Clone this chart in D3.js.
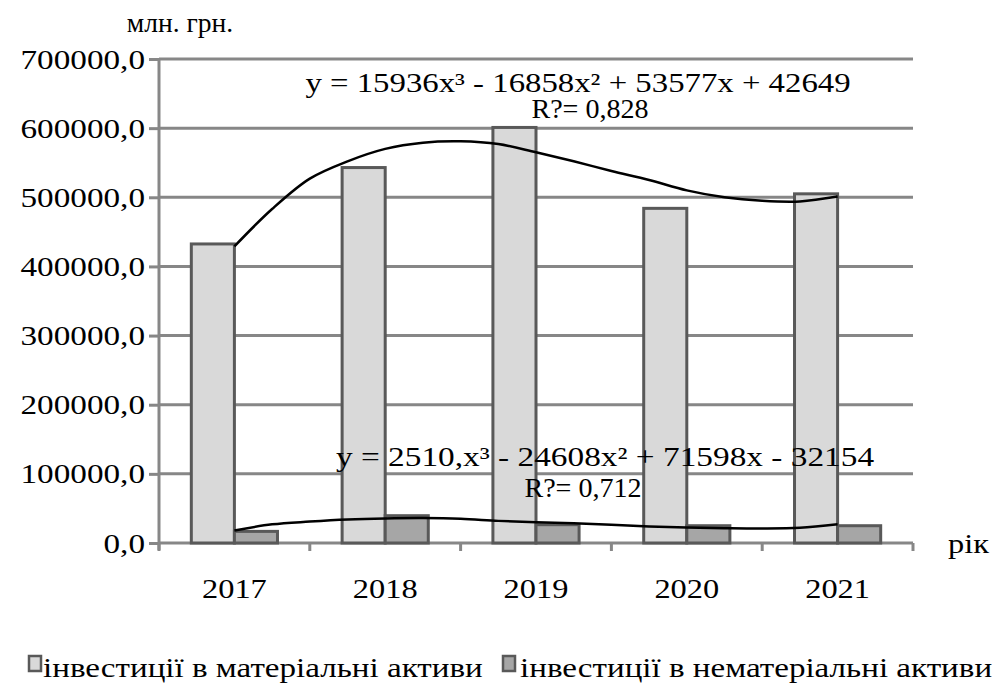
<!DOCTYPE html>
<html><head><meta charset="utf-8">
<script src="https://cdn.jsdelivr.net/npm/d3@7"></script>
<style>body{margin:0;background:#fff}</style>
</head><body><svg id="c" width="993" height="690"></svg>
<script>
const years = ["2017","2018","2019","2020","2021"];
const seriesNames = ["інвестиції в матеріальні активи","інвестиції в нематеріальні активи"];
const tangible = [432500, 543000, 601000, 484000, 505000];
const intangible = [16800, 39500, 26500, 25000, 25000];
const yTicks = [0,100000,200000,300000,400000,500000,600000,700000];
// trendline samples, at category positions 1..5 step 0.25
const trendT = [1,1.25,1.5,1.75,2,2.25,2.5,2.75,3,3.25,3.5,3.75,4,4.25,4.5,4.75,5];
const trendTangible = [429000,483000,527000,552000,570000,579000,581000,577000,565000,552000,538000,525000,510000,500000,495000,494000,501000];
const trendIntangible = [18000,27000,31000,34000,35500,36000,35000,32000,30000,28500,26500,24000,22500,21500,21000,22000,27000];
const eq1 = "y = 15936x³ - 16858x² + 53577x + 42649";
const r1 = "R?= 0,828";
const eq2 = "y = 2510,x³ - 24608x² + 71598x - 32154";
const r2 = "R?= 0,712";
const yUnit = "млн. грн.";
const xUnit = "рік";

const svg = d3.select("#c");
const L=159, R=913, T=59, B=543;
const FS=27, SX=1.2;
const FONT="'Liberation Serif', Tinos, 'Times New Roman', Times, serif";
const x = d3.scaleBand().domain(years).range([L,R]).padding(0);
const xs = d3.scaleBand().domain([0,1]).range([0,x.bandwidth()]).paddingInner(0).paddingOuter(0.75);
const y = d3.scaleLinear().domain([0,700000]).range([B,T]);
const tx = t => x(years[0]) + x.bandwidth()/2 + (t-1)*x.step();
const fmt = v => d3.format(".1f")(v).replace(".",",");

function txt(px,py,s,anchor,sx){
  return svg.append("text").attr("transform",`translate(${px},${py}) scale(${sx||SX},1)`)
   .attr("text-anchor",anchor||"start").attr("font-size",FS).attr("font-family",FONT)
   .attr("fill","#000").text(s);
}

// gridlines
svg.append("g").selectAll("line").data(yTicks.slice(1)).join("line")
 .attr("x1",L).attr("x2",R).attr("y1",d=>y(d)).attr("y2",d=>y(d))
 .attr("stroke","#878787").attr("stroke-width",3);

// y axis
const ya = svg.append("g").attr("transform",`translate(${L},0)`)
 .call(d3.axisLeft(y).tickValues(yTicks).tickSize(10).tickFormat(""));
ya.selectAll("line,path").attr("stroke","#878787").attr("stroke-width",3);
ya.select("path").attr("d",`M0,${T}V${B+7}`);
yTicks.forEach(v=>txt(145,y(v)+9.5,fmt(v),"end",1.23));

// x axis
const xa = svg.append("g").attr("transform",`translate(0,${B})`)
 .call(d3.axisBottom(x).tickSize(0).tickFormat(""));
xa.select("path").attr("d",`M${L},0H${R}`).attr("stroke","#878787").attr("stroke-width",3);
const bounds = years.map(d=>x(d)).concat([R]);
svg.append("g").selectAll("line").data(bounds).join("line")
 .attr("x1",d=>d).attr("x2",d=>d).attr("y1",B).attr("y2",B+8)
 .attr("stroke","#878787").attr("stroke-width",3);
years.forEach(d=>txt(x(d)+x.bandwidth()/2,598,d,"middle"));

// bars
const fills=["#d9d9d9","#a6a6a6"];
[tangible,intangible].forEach((vals,si)=>{
  svg.append("g").selectAll("rect").data(vals).join("rect")
   .attr("x",(d,i)=>x(years[i])+xs(si)).attr("width",xs.bandwidth())
   .attr("y",d=>y(d)).attr("height",d=>B-y(d))
   .attr("fill",fills[si]).attr("stroke","#595959").attr("stroke-width",3);
});

// trendlines
const line = d3.line().x((d,i)=>tx(trendT[i])).y(d=>y(d)).curve(d3.curveCatmullRom);
[trendTangible,trendIntangible].forEach(arr=>{
  svg.append("path").attr("d",line(arr)).attr("fill","none").attr("stroke","#000").attr("stroke-width",2.5);
});

// equations
txt(578,92,eq1,"middle",1.215);
txt(590,118,r1,"middle",1.04);
txt(605,466,eq2,"middle",1.235);
txt(583,497,r2,"middle",1.04);

// unit labels
txt(180,32,yUnit,"middle",1.02);
txt(948,553,xUnit,"start");

// legend
const lgBox = [29,503], lgText=[43,520];
seriesNames.forEach((n,i)=>{
  svg.append("rect").attr("x",lgBox[i]).attr("y",656).attr("width",12).attr("height",15)
   .attr("fill",fills[i]).attr("stroke","#595959").attr("stroke-width",2.5);
  txt(lgText[i],677,n,"start",1.225);
});
</script></body></html>
